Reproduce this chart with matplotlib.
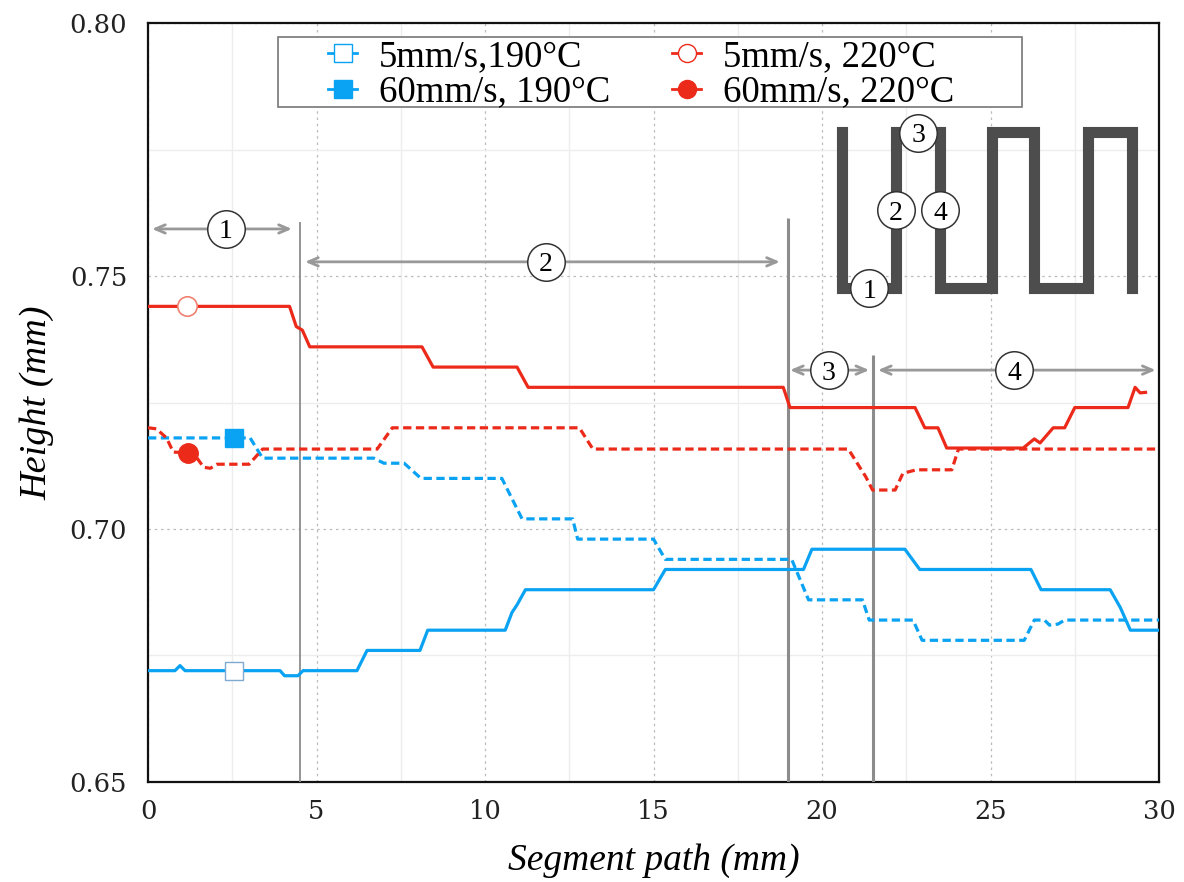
import numpy as np
import matplotlib
matplotlib.use("Agg")
import matplotlib.pyplot as plt
from matplotlib.lines import Line2D
from matplotlib.patches import Rectangle
from matplotlib.ticker import MultipleLocator, FormatStrFormatter

plt.rcParams['font.family'] = ['Liberation Serif', 'DejaVu Serif']

# ---------------- data ----------------
x_5_190 = [0, 0.8, 0.95, 1.1, 3.92, 4.05, 4.45, 4.6, 6.2, 6.5, 8.07, 8.3, 10.6, 10.8, 10.95, 11.2,
           15.0, 15.35, 19.45, 19.7, 22.46, 22.9, 26.2, 26.5, 28.55, 28.85, 29.15, 30]
y_5_190 = [0.672, 0.672, 0.673, 0.672, 0.672, 0.671, 0.671, 0.672, 0.672, 0.676, 0.676, 0.680, 0.680,
           0.6835, 0.685, 0.688, 0.688, 0.692, 0.692, 0.696, 0.696, 0.692, 0.692, 0.688, 0.688, 0.6845,
           0.680, 0.680]

x_60_190 = [0, 3.03, 3.4, 6.7, 7.0, 7.6, 8.1, 10.5, 11.1, 12.6, 12.75, 15.0, 15.35, 19.1, 19.6, 21.2,
            21.4, 22.7, 22.97, 26.0, 26.3, 26.6, 26.75, 27.0, 27.2, 30]
y_60_190 = [0.718, 0.718, 0.714, 0.714, 0.713, 0.713, 0.710, 0.710, 0.702, 0.702, 0.698, 0.698, 0.694,
            0.694, 0.686, 0.686, 0.682, 0.682, 0.678, 0.678, 0.682, 0.682, 0.681, 0.6812, 0.682, 0.682]

x_5_220 = [0, 4.2, 4.4, 4.58, 4.8, 8.13, 8.46, 10.95, 11.28, 18.85, 19.05, 22.76, 23.05, 23.44, 23.7,
           25.97, 26.3, 26.47, 26.86, 27.2, 27.5, 29.08, 29.29, 29.44, 29.6]
y_5_220 = [0.744, 0.744, 0.740, 0.7393, 0.736, 0.736, 0.732, 0.732, 0.728, 0.728, 0.724, 0.724, 0.720,
           0.720, 0.716, 0.716, 0.7178, 0.717, 0.720, 0.720, 0.724, 0.724, 0.728, 0.7269, 0.727]

x_60_220 = [0, 0.25, 0.55, 0.75, 1.35, 1.65, 1.85, 2.05, 3.0, 3.4, 6.8, 7.25, 12.8, 13.2, 20.78, 21.3,
            21.5, 22.17, 22.4, 22.8, 23.85, 24.05, 30]
y_60_220 = [0.720, 0.7198, 0.718, 0.7152, 0.715, 0.7122, 0.712, 0.7128, 0.7128, 0.7158, 0.7158, 0.720,
            0.720, 0.7158, 0.7158, 0.7103, 0.7077, 0.7077, 0.711, 0.7117, 0.7117, 0.7158, 0.7158]

labels = ["5mm/s,190°C", "60mm/s, 190°C", "5mm/s, 220°C", "60mm/s, 220°C"]
marker_x = [2.55, 2.55, 1.15, 1.2]

# zone boundaries and annotations
boundary_x = [4.5, 19.0, 21.5]
boundary_top = [0.7607, 0.7615, 0.7344]
boundary_lw = [1.3, 2.2, 2.2]
zone_labels = ["1", "2", "3", "4"]
zone_start = [0.12, 4.66, 19.05, 21.66]
zone_end = [4.27, 18.75, 21.4, 29.9]
zone_y = [0.7593, 0.7528, 0.7314, 0.7314]
zone_lab_x = [2.3, 11.8, 20.2, 25.7]

# inset meander path
mx = [20.59, 20.59, 22.2, 22.2, 23.5, 23.5, 25.05, 25.05, 26.3, 26.3, 27.9, 27.9, 29.2, 29.2]
my = [0.7785, 0.7476, 0.7476, 0.7785, 0.7785, 0.7476, 0.7476, 0.7785, 0.7785, 0.7476, 0.7476, 0.7785,
      0.7785, 0.7476]
inset_lab = ["1", "2", "3", "4"]
inset_lab_x = [21.4, 22.2, 22.85, 23.5]
inset_lab_y = [0.7476, 0.763, 0.7783, 0.763]

BLUE = '#0AA2F2'
RED = '#EC2A1A'
GRAY = '#8C8C8C'

fig = plt.figure(figsize=(11.84, 8.82), dpi=100)
ax = fig.add_axes([0.125, 0.1134, 0.8539, 0.8605])

ax.set_xlim(0, 30)
ax.set_ylim(0.65, 0.80)
ax.xaxis.set_major_locator(MultipleLocator(5))
ax.xaxis.set_minor_locator(MultipleLocator(2.5))
ax.yaxis.set_major_locator(MultipleLocator(0.05))
ax.yaxis.set_minor_locator(MultipleLocator(0.025))
ax.yaxis.set_major_formatter(FormatStrFormatter('%.2f'))
ax.grid(which='major', color='#BBBBBB', linestyle=(0, (2, 3)), linewidth=0.9)
ax.grid(which='minor', color='#EDEDED', linestyle='-', linewidth=1.0)
ax.set_axisbelow(True)
ax.tick_params(which='both', length=0)
ax.tick_params(axis='y', pad=15)
ax.tick_params(axis='x', pad=12)
for lab in ax.get_xticklabels() + ax.get_yticklabels():
    lab.set_fontfamily('DejaVu Serif')
    lab.set_fontsize(18.5)
    lab.set_color('#222222')
for sp in ax.spines.values():
    sp.set_linewidth(1.6)
    sp.set_color('#111111')

dash = (0, (2.6, 1.4))
ax.plot(x_5_190, y_5_190, color=BLUE, lw=2.3, solid_joinstyle='round', zorder=4)
ax.plot(x_60_190, y_60_190, color=BLUE, lw=2.3, linestyle=dash, zorder=4)
ax.plot(x_5_220, y_5_220, color=RED, lw=2.3, solid_joinstyle='round', zorder=4)
ax.plot(x_60_220, y_60_220, color=RED, lw=2.3, linestyle=dash, zorder=4)

# single markers on each series
ax.plot(marker_x[0], np.interp(marker_x[0], x_5_190, y_5_190), 's', ms=13, mfc='white', mec='#7FA9D0', mew=1.0, zorder=5)
ax.plot(marker_x[1], np.interp(marker_x[1], x_60_190, y_60_190), 's', ms=13, mfc=BLUE, mec=BLUE, zorder=5)
ax.plot(marker_x[2], np.interp(marker_x[2], x_5_220, y_5_220), 'o', ms=14, mfc='white', mec='#F08070', mew=1.2, zorder=5)
ax.plot(marker_x[3], np.interp(marker_x[3], x_60_220, y_60_220), 'o', ms=14, mfc=RED, mec=RED, zorder=5)

# boundaries
for bx, bt, blw in zip(boundary_x, boundary_top, boundary_lw):
    ax.plot([bx, bx], [0.65, bt], color=GRAY, lw=blw, zorder=3, solid_capstyle='butt')

# zone arrows
for lab, x0, x1, yy, lx in zip(zone_labels, zone_start, zone_end, zone_y, zone_lab_x):
    ax.annotate('', xy=(x1, yy), xytext=(x0, yy),
                arrowprops=dict(arrowstyle='<->,head_length=0.7,head_width=0.3', color='#999999', lw=2.0,
                                shrinkA=0, shrinkB=0), zorder=6)
    ax.plot(lx, yy, 'o', ms=27, mfc='white', mec='#333333', mew=1.1, zorder=7)
    ax.text(lx, yy, lab, ha='center', va='center_baseline', fontsize=20, zorder=8)

# inset meander
ax.plot(mx, my, color='#4D4D4D', lw=8, solid_joinstyle='miter', solid_capstyle='projecting', zorder=5)
for lab, lx, ly in zip(inset_lab, inset_lab_x, inset_lab_y):
    ax.plot(lx, ly, 'o', ms=27, mfc='white', mec='#333333', mew=1.1, zorder=7)
    ax.text(lx, ly, lab, ha='center', va='center_baseline', fontsize=20, zorder=8)

# legend
frame = Rectangle((0.1286, 0.8893), 0.7359, 0.0923, transform=ax.transAxes, facecolor='white',
                  edgecolor='#777777', lw=1.2, zorder=9)
ax.add_patch(frame)
handles = [
    Line2D([], [], color=BLUE, lw=2, marker='s', ms=12.5, mfc='white', mec=BLUE, mew=1.0),
    Line2D([], [], color=BLUE, lw=2, marker='s', ms=12.5, mfc=BLUE, mec=BLUE),
    Line2D([], [], color=RED, lw=2, marker='o', ms=13, mfc='white', mec=RED, mew=1.0),
    Line2D([], [], color=RED, lw=2, marker='o', ms=13, mfc=RED, mec=RED),
]
leg = ax.legend(handles, labels, ncol=2, loc='center left', bbox_to_anchor=(0.178, 0.9322),
                fontsize=26.5, frameon=False, handlelength=0.8, handletextpad=0.58, borderpad=0,
                labelspacing=0.03, columnspacing=1.68, borderaxespad=0)
leg.set_zorder(10)

ax.set_xlabel('Segment path (mm)', fontsize=27, style='italic', labelpad=14)
ax.set_ylabel('Height (mm)', fontsize=27.5, style='italic', labelpad=11)

fig.savefig('out.png', dpi=100)
